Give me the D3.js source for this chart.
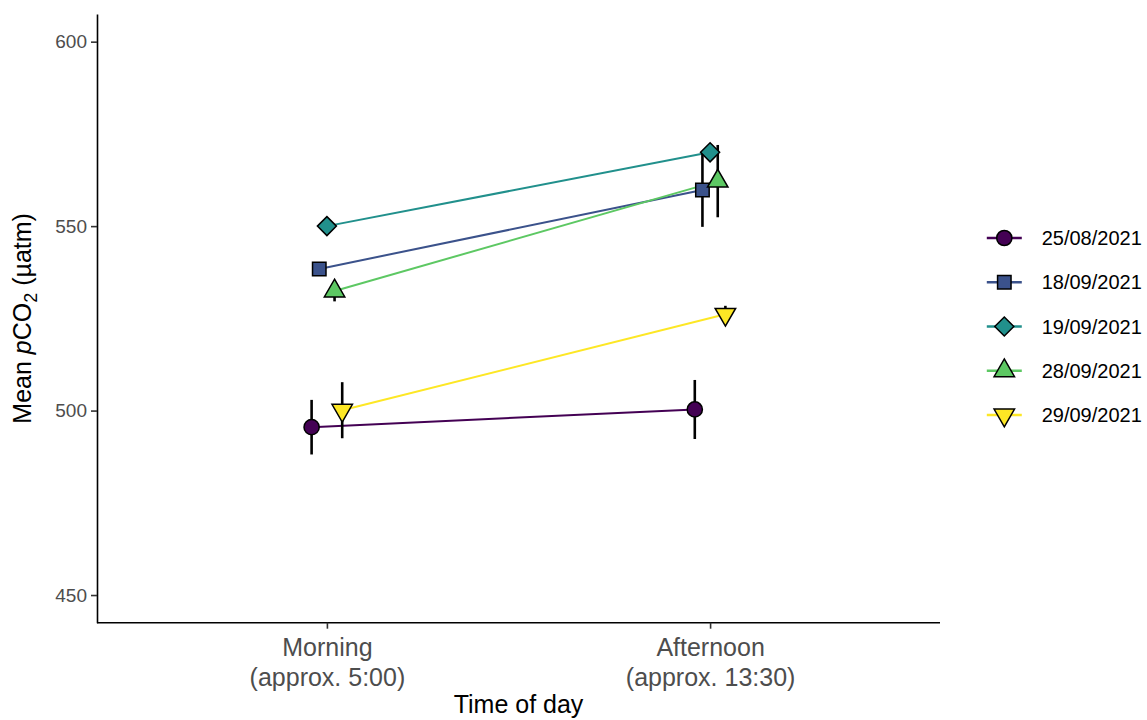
<!DOCTYPE html>
<html>
<head>
<meta charset="utf-8">
<script src="https://cdn.jsdelivr.net/npm/d3@7"></script>
<style>
  html, body { margin: 0; padding: 0; background: #fff; }
  svg { display: block; font-family: "Liberation Sans", Arial, Helvetica, sans-serif; }
</style>
</head>
<body>
<svg id="chart" width="1147" height="720"></svg>
<script>
// Sampling dates (legend order) and time-of-day categories
const dates = ["25/08/2021", "18/09/2021", "19/09/2021", "28/09/2021", "29/09/2021"];
const timeKeys = ["Morning", "Afternoon"];
const timeLabels = [["Morning", "(approx. 5:00)"], ["Afternoon", "(approx. 13:30)"]];

// Mean pCO2 (µatm) and error per date, morning and afternoon
const morningMean   = [495.5, 538.4, 550.0, 532.4, 500.1];
const morningErr    = [7.4,   1.0,   1.0,   2.8,   7.6];
const afternoonMean = [500.3, 559.8, 570.0, 562.2, 526.1];
const afternoonErr  = [8.0,  10.0,   1.5,   9.8,   2.3];

// Axis ticks
const yTicks = [450, 500, 550, 600];

// Viridis palette and marker shapes per date
const colors = ["#440154", "#3B528B", "#21908C", "#5DC863", "#FDE725"];
const shapes = ["circle", "square", "diamond", "triangleUp", "triangleDown"];

const svg = d3.select("#chart");
const panel = { left: 97, right: 940, top: 14, bottom: 622.7 };

const x = d3.scalePoint().domain(timeKeys).range([panel.left, panel.right]).padding(0.6);
const dodge = d3.scalePoint().domain(dates).range([-15.3, 15.3]);
const y = d3.scaleLinear().domain([442.5, 607.5]).range([panel.bottom, panel.top]);
const color = d3.scaleOrdinal().domain(dates).range(colors);
const shape = d3.scaleOrdinal().domain(dates).range(shapes);

const rows = [];
dates.forEach((d, i) => {
  rows.push({ date: d, time: "Morning", mean: morningMean[i], err: morningErr[i] });
  rows.push({ date: d, time: "Afternoon", mean: afternoonMean[i], err: afternoonErr[i] });
});
const px = r => x(r.time) + dodge(r.date);

// Marker outline as an SVG path, sized from a base radius R
function markerPath(kind, R) {
  switch (kind) {
    case "circle": {
      const p = d3.path();
      p.moveTo(R, 0);
      p.arc(0, 0, R, 0, 2 * Math.PI);
      p.closePath();
      return p.toString();
    }
    case "square": {
      const s = 0.886 * R;
      return `M${-s},${-s}H${s}V${s}H${-s}Z`;
    }
    case "diamond": {
      const s = 1.253 * R;
      return `M0,${-s}L${s},0L0,${s}L${-s},0Z`;
    }
    case "triangleUp": {
      const r = 1.555 * R, xc = 1.347 * R;
      return `M0,${-r}L${xc},${r / 2}L${-xc},${r / 2}Z`;
    }
    case "triangleDown": {
      const r = 1.555 * R, xc = 1.347 * R;
      return `M0,${r}L${xc},${-r / 2}L${-xc},${-r / 2}Z`;
    }
  }
}
const R = 7.6;

// Axes
const yAxis = d3.axisLeft(y).tickValues(yTicks).tickSize(6).tickSizeOuter(0).tickPadding(4);
const gy = svg.append("g").attr("transform", `translate(${panel.left},0)`).call(yAxis);
gy.select(".domain").attr("stroke", "#000").attr("stroke-width", 1.6);
gy.selectAll(".tick line").attr("stroke", "#333").attr("stroke-width", 1.6);
gy.selectAll(".tick text").attr("fill", "#4D4D4D").attr("font-size", 19)
  .attr("font-family", "Liberation Sans, Arial, sans-serif");

const xAxis = d3.axisBottom(x).tickSize(6).tickSizeOuter(0).tickFormat("");
const gx = svg.append("g").attr("transform", `translate(0,${panel.bottom})`).call(xAxis);
gx.select(".domain").attr("stroke", "#000").attr("stroke-width", 1.6)
  .attr("d", `M${panel.left},0H${panel.right}`);
gx.selectAll(".tick line").attr("stroke", "#333").attr("stroke-width", 1.6);
gx.selectAll(".tick").each(function (d, i) {
  const t = d3.select(this).append("text")
    .attr("fill", "#4D4D4D").attr("font-size", 25).attr("text-anchor", "middle")
    .attr("font-family", "Liberation Sans, Arial, sans-serif");
  timeLabels[i].forEach((line, k) => {
    t.append("tspan").attr("x", 0).attr("y", 33 + k * 30).text(line);
  });
});

// Axis titles
svg.append("text")
  .attr("x", (panel.left + panel.right) / 2).attr("y", 713)
  .attr("text-anchor", "middle").attr("font-size", 25).attr("fill", "#000")
  .text("Time of day");

const yt = svg.append("text")
  .attr("transform", `translate(31,${(panel.top + panel.bottom) / 2}) rotate(-90)`)
  .attr("text-anchor", "middle").attr("font-size", 25).attr("fill", "#000");
yt.append("tspan").text("Mean ");
yt.append("tspan").attr("font-style", "italic").text("p");
yt.append("tspan").text("CO");
yt.append("tspan").attr("font-size", 18).attr("dy", 6).text("2");
yt.append("tspan").attr("dy", -6).text(" (µatm)");

// Connecting lines between morning and afternoon
const line = d3.line().x(px).y(r => y(r.mean));
const plot = svg.append("g");
dates.forEach(d => {
  const pts = rows.filter(r => r.date === d);
  plot.append("path").attr("d", line(pts))
    .attr("fill", "none").attr("stroke", color(d)).attr("stroke-width", 2);
});

// Error bars
plot.selectAll(".err").data(rows).join("line").attr("class", "err")
  .attr("x1", px).attr("x2", px)
  .attr("y1", r => y(r.mean - r.err)).attr("y2", r => y(r.mean + r.err))
  .attr("stroke", "#000").attr("stroke-width", 2.6);

// Points
plot.selectAll(".pt").data(rows).join("path").attr("class", "pt")
  .attr("transform", r => `translate(${px(r)},${y(r.mean)})`)
  .attr("d", r => markerPath(shape(r.date), R))
  .attr("fill", r => color(r.date)).attr("stroke", "#000").attr("stroke-width", 1.5);

// Legend
const legend = svg.append("g");
const legY = d3.scalePoint().domain(dates).range([238, 415]);
dates.forEach(d => {
  const g = legend.append("g").attr("transform", `translate(1004.3,${legY(d)})`);
  g.append("line").attr("x1", -17.5).attr("x2", 17.5)
    .attr("stroke", color(d)).attr("stroke-width", 2.4);
  g.append("path").attr("d", markerPath(shape(d), R))
    .attr("fill", color(d)).attr("stroke", "#000").attr("stroke-width", 1.5);
  g.append("text").attr("x", 37.4).attr("dy", "0.35em")
    .attr("font-size", 20).attr("fill", "#000").text(d);
});
</script>
</body>
</html>
